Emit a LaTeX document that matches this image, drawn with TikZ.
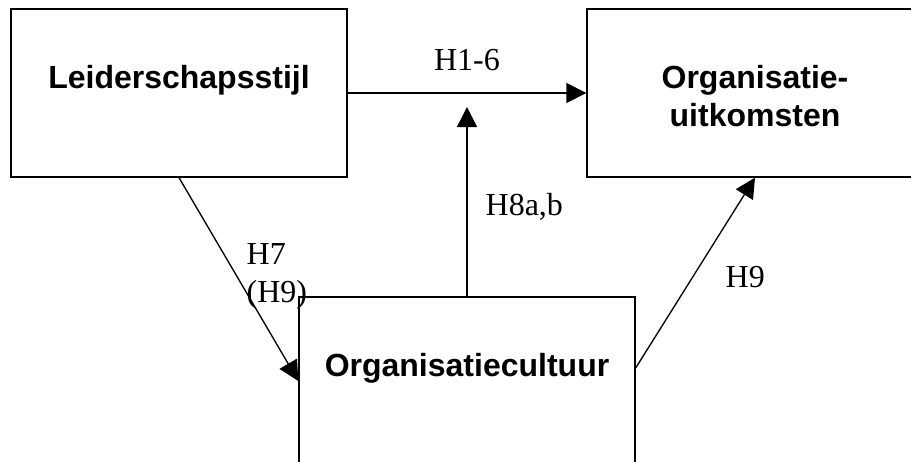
\documentclass[tikz,border=0pt]{standalone}
\usepackage{fontspec}
\setmainfont{Liberation Serif}
\setsansfont{Liberation Sans}
\usetikzlibrary{arrows.meta,positioning}

\begin{document}
\begin{tikzpicture}[x=0.75pt,y=-0.75pt, line width=1pt,
	box/.style={draw, minimum width=252pt, minimum height=126pt, inner sep=0pt},
	title/.style={font=\sffamily\bfseries\fontsize{24}{28.5}\selectfont, align=center, inner sep=0pt},
	hyp/.style={font=\fontsize{24}{28.5}\selectfont, align=left, inner sep=0pt},
	arr/.style={-{Triangle[length=15pt,width=15pt]}}]
	\useasboundingbox (0,0) rectangle (911,461);
	\clip (0,0) rectangle (911,461);

	% boxes
	\node[box] (lead) at (179,93) {};
	\node[box] (out) at (755,93) {};
	\node[box] (cult) at (467,381) {};

	\node[title, below=42pt of lead.north] (leadtxt) {Leiderschapsstijl};
	\node[title, below=42pt of out.north] (outtxt) {Organisatie-\\uitkomsten};
	\node[title, below=42pt of cult.north] (culttxt) {Organisatiecultuur};

	% arrows
	\coordinate (modtip) at (467,107);
	\draw[arr] (lead.east) -- (out.west) node[hyp, midway, anchor=base, yshift=17.25pt] (h16) {H1-6};
	\draw[arr] (cult.north) -- (modtip);
	\draw[arr] (lead.south) -- (cult.west);
	\draw[arr] ([yshift=9.75pt]cult.east) -- (out.south);

	\node[hyp, anchor=base west] (h8) at (485,215) {H8a,b};
	\node[hyp, anchor=north west] (h7) at (246,243) {H7\\(H9)};
	\node[hyp, anchor=base west] (h9) at (725,287) {H9};
\end{tikzpicture}
\end{document}
